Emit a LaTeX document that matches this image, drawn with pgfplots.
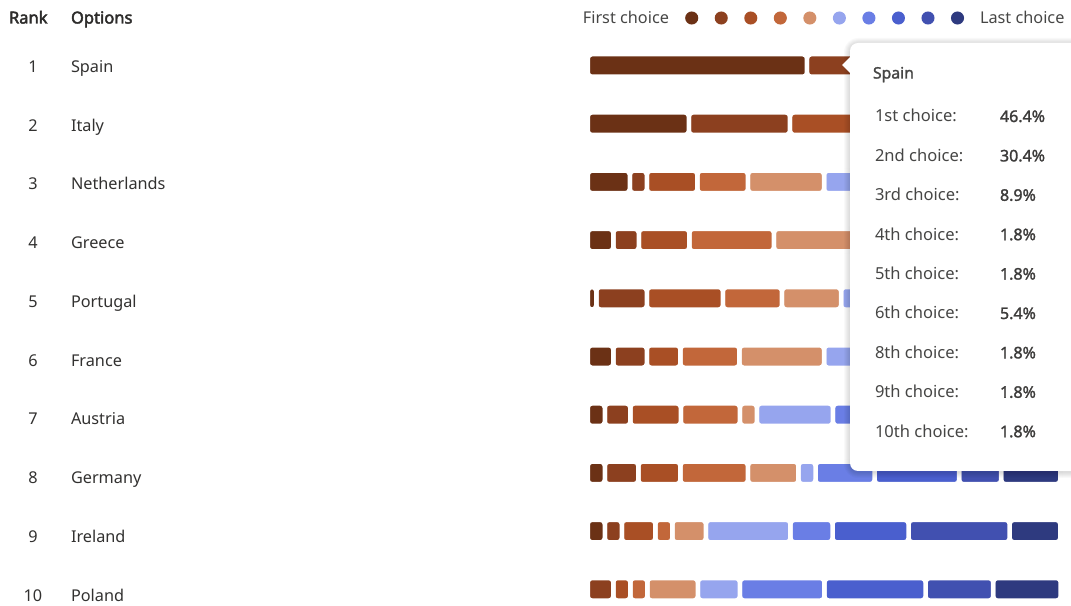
\documentclass[border=0pt]{standalone}
\usepackage{pgfplots}
\pgfplotsset{compat=1.18}
\usepackage{pgfplotstable}
\usepackage{fontspec}
\setmainfont{Noto Sans}[AutoFakeBold=1.6]
\newfontfamily\heavyfont{Noto Sans}[FakeBold=2.6]
\definecolor{c1}{HTML}{6B3115}
\definecolor{c2}{HTML}{8C401F}
\definecolor{c3}{HTML}{A94F25}
\definecolor{c4}{HTML}{C2673A}
\definecolor{c5}{HTML}{D4906A}
\definecolor{c6}{HTML}{96A5EE}
\definecolor{c7}{HTML}{6A7EE5}
\definecolor{c8}{HTML}{4A5FCE}
\definecolor{c9}{HTML}{4150B0}
\definecolor{c10}{HTML}{2E3A7F}
\definecolor{txt}{HTML}{323130}
\pgfplotstableread{
row c1 c2 c3 c4 c5 c6 c7 c8 c9 c10
1 46.4 30.4 8.9 1.8 1.8 5.4 0 1.8 1.8 1.8
2 21.4 21.4 16.1 10.7 1.8 8.9 5.4 5.4 5.4 3.6
3 8.9 3.6 10.7 10.7 16.1 10.7 12.5 7.1 10.7 8.9
4 5.4 5.4 10.7 17.9 17.9 8.9 10.7 7.1 7.1 8.9
5 1.8 10.7 16.1 12.5 12.5 8.9 10.7 5.4 10.7 10.7
6 5.4 7.1 7.1 12.5 17.9 10.7 8.9 8.9 8.9 12.5
7 3.6 5.4 10.7 12.5 3.6 16.1 12.5 8.9 10.7 16.1
8 3.6 7.1 8.9 14.3 10.7 3.6 12.5 17.9 8.9 12.5
9 3.6 3.6 7.1 3.6 7.1 17.9 8.9 16.1 21.4 10.7
10 0 5.4 3.6 3.6 10.7 8.9 17.9 21.4 14.3 14.3
}\ranktable
\begin{document}
\begin{tikzpicture}
\useasboundingbox (0pt,0pt) rectangle (803.25pt,454.5pt);
\begin{axis}[
  at={(440.8125pt,427.2pt)}, anchor=north west,
  scale only axis, width=354.375pt, height=436.5pt,
  xbar stacked, bar width=16.875pt,
  xmin=0, xmax=100, ymin=0.5, ymax=10.5, y dir=reverse,
  hide axis, clip=false,
  every axis plot/.append style={draw=white, line width=3.375pt, rounded corners=3pt},
  legend image code/.code={\fill[#1, draw=none] (0pt,0pt) circle (4.9pt);},
  legend style={at={(axis description cs:0.2062,1.0316)}, anchor=west,
    draw=none, fill=none, inner sep=0pt, outer sep=0pt,
    nodes={inner sep=0pt},
    /tikz/every even column/.append style={column sep=11.35pt}},
  legend columns=-1,
]
\addplot[fill=c1] table[x=c1,y=row]{\ranktable}; \addlegendentry{}
\addplot[fill=c2] table[x=c2,y=row]{\ranktable}; \addlegendentry{}
\addplot[fill=c3] table[x=c3,y=row]{\ranktable}; \addlegendentry{}
\addplot[fill=c4] table[x=c4,y=row]{\ranktable}; \addlegendentry{}
\addplot[fill=c5] table[x=c5,y=row]{\ranktable}; \addlegendentry{}
\addplot[fill=c6] table[x=c6,y=row]{\ranktable}; \addlegendentry{}
\addplot[fill=c7] table[x=c7,y=row]{\ranktable}; \addlegendentry{}
\addplot[fill=c8] table[x=c8,y=row]{\ranktable}; \addlegendentry{}
\addplot[fill=c9] table[x=c9,y=row]{\ranktable}; \addlegendentry{}
\addplot[fill=c10] table[x=c10,y=row]{\ranktable}; \addlegendentry{}
\end{axis}
\begin{scope}[x=0.75pt, y=-0.75pt, shift={(0pt,454.5pt)}, every node/.style={inner sep=0pt, outer sep=0pt, text=txt}]
  % headers
  \node[anchor=base west, font=\heavyfont\fontsize{12.4pt}{14pt}\selectfont, text=txt!90!black] at (9,23.5) {Rank};
  \node[anchor=base west, font=\heavyfont\fontsize{12.4pt}{14pt}\selectfont, text=txt!90!black] at (71,23.5) {Options};
  \node[anchor=base east, font=\fontsize{12.2pt}{14pt}\selectfont, text=txt!90] at (669,23.5) {First choice};
  \node[anchor=base west, font=\fontsize{12.2pt}{14pt}\selectfont, text=txt!90] at (980,23.5) {Last choice};
  % rows
  \foreach \n/\name [count=\i from 0] in {1/Spain,2/Italy,3/Netherlands,4/Greece,5/Portugal,6/France,7/Austria,8/Germany,9/Ireland,10/Poland}{
    \node[anchor=base, font=\fontsize{12.2pt}{14pt}\selectfont] at (33,{72.3+58.75*\i}) {\n};
    \node[anchor=base west, font=\fontsize{12.2pt}{14pt}\selectfont] at (71,{72.3+58.75*\i}) {\name};
  }
  % tooltip
  \foreach \r in {1,...,6}{
    \fill[black, opacity=0.022, rounded corners={6pt+\r*0.75pt}] ({850-\r},{43-\r+1}) rectangle (1100,{471+\r+1});
  }
  \fill[white, rounded corners=6pt] (850,43) rectangle (1100,471);
  \fill[white] (851,56) -- (842,65) -- (851,74) -- cycle;
  \node[anchor=base west, font=\bfseries\fontsize{11.8pt}{13pt}\selectfont, text=txt!90] at (873,78.5) {Spain};
  \foreach \lab/\val [count=\k from 0] in {1st/46.4,2nd/30.4,3rd/8.9,4th/1.8,5th/1.8,6th/5.4,8th/1.8,9th/1.8,10th/1.8}{
    \node[anchor=base west, font=\fontsize{12.4pt}{13pt}\selectfont, text=txt!90] at (875,{122+39.4*\k}) {\lab\ choice:};
    \node[anchor=base west, font=\bfseries\fontsize{12pt}{13pt}\selectfont, text=txt!95] at (1000,{122+39.4*\k}) {\val\%};
  }
\end{scope}
\end{tikzpicture}
\end{document}
